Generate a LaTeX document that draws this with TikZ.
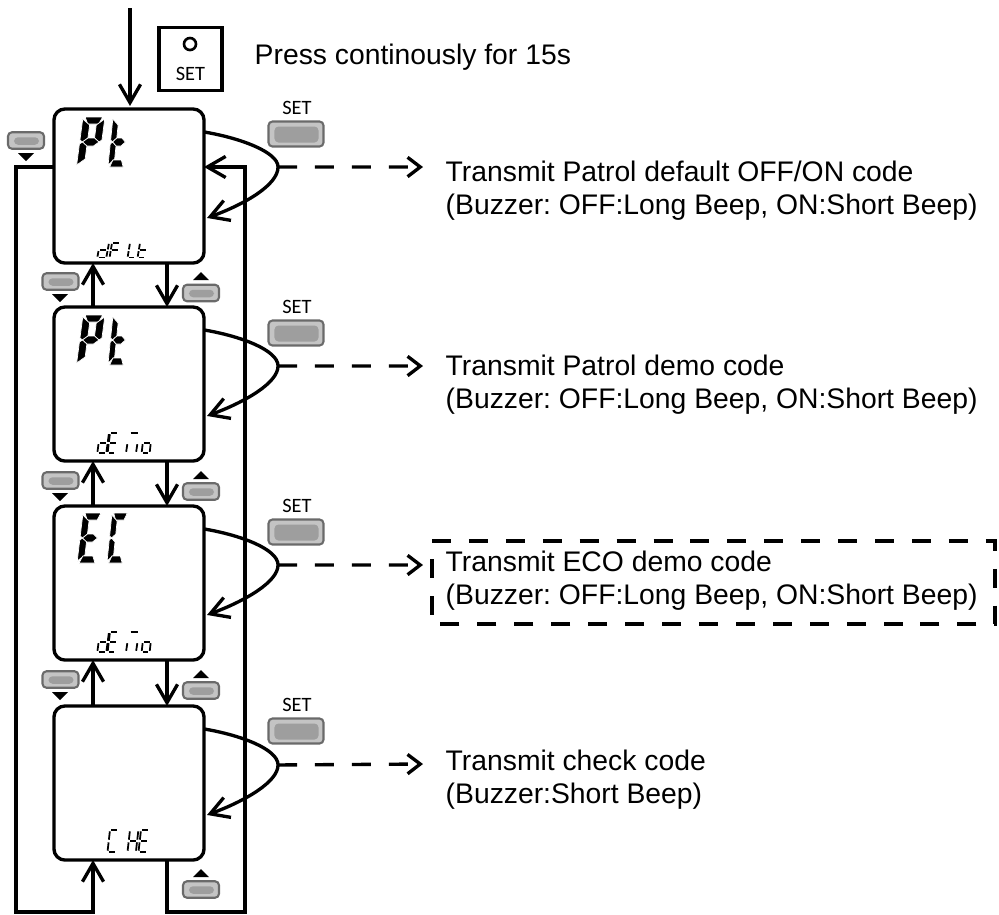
\documentclass[tikz,border=0pt]{standalone}
\usepackage{fontspec}
\setmainfont{Liberation Sans}
\newfontfamily\keyfont{Carlito}
\usetikzlibrary{positioning,arrows.meta,calc}
\frenchspacing

\definecolor{btnedge}{HTML}{6A6A6A}
\definecolor{btnface}{HTML}{C4C4C4}
\definecolor{btncore}{HTML}{9E9E9E}

% segments of a display digit, filled
\def\sega{(2,0)--(18,0)--(15,7)--(5,7)--cycle}
\def\segb{(20,2)--(20,23)--(17.5,25)--(13,21)--(13,8)--cycle}
\def\segc{(20,27)--(20,48)--(13,42)--(13,29)--(17.5,25)--cycle}
\def\segd{(5,43)--(15,43)--(18,50)--(2,50)--cycle}
\def\sege{(0,27)--(2.5,25)--(7,29)--(7,42)--(0,48)--cycle}
\def\segf{(0,2)--(7,8)--(7,21)--(2.5,25)--(0,23)--cycle}
\def\segg{(2.5,25)--(7,21)--(13,21)--(17.5,25)--(13,29)--(7,29)--cycle}
% the same segments as thin strokes
\def\thina{(3,0)--(17,0)}
\def\thinb{(20,3)--(20,22)}
\def\thinc{(20,28)--(20,47)}
\def\thind{(3,50)--(17,50)}
\def\thine{(0,28)--(0,47)}
\def\thinf{(0,3)--(0,22)}
\def\thing{(3,25)--(17,25)}

\newcommand{\lcdbig}[4]{%
  \begin{scope}[shift={(#1,#2)},xscale=#3,xslant=.12]
    \foreach \sg in {#4}{\filldraw[draw=white,line width=.2pt] \csname seg\sg\endcsname;}
  \end{scope}}
\newcommand{\lcdsmall}[5]{%
  \begin{scope}[shift={(#1,#2)},xscale=#3,yscale=#4,xslant=.12]
    \foreach \sg in {#5}{\draw[line width=.5pt] \csname thin\sg\endcsname;}
  \end{scope}}
\newcommand{\tridown}[2]{\fill (#1-8,#2) -- (#1+8,#2) -- (#1,#2+8) -- cycle;}
\newcommand{\triup}[2]{\fill (#1-8,#2+8) -- (#1+8,#2+8) -- (#1,#2) -- cycle;}

\tikzset{
  lcdbox/.style={draw,line width=.95pt,rounded corners=.11cm,minimum width=1.5cm,minimum height=1.54cm,inner sep=0pt,outer sep=0pt},
  ln/.style={line width=.95pt},
  arr/.style={ln,-{Straight Barb[length=5.2pt,width=6pt]}},
  dashln/.style={line width=.95pt,dash pattern=on 5.4pt off 5.1pt},
  dasharr/.style={dashln,-{Straight Barb[length=3.6pt,width=5.5pt]}},
  bigbtn/.style={draw=btnedge,fill=btnface,line width=.6pt,rounded corners=.04cm,minimum width=.55cm,minimum height=.25cm,inner sep=0pt,
    path picture={\fill[btncore] ([xshift=.06cm,yshift=-.05cm]path picture bounding box.north west) rectangle ([xshift=-.05cm,yshift=.04cm]path picture bounding box.south east);}},
  smallbtn/.style={bigbtn,minimum width=.36cm,minimum height=.165cm},
  keylbl/.style={font=\keyfont\fontsize{5.8}{7}\selectfont,inner sep=0pt},
  msg/.style={font=\fontsize{8.05}{9.4}\selectfont,align=left,anchor=west,inner sep=0pt}
}

\begin{document}
\begin{tikzpicture}[x=.01cm,y=-.01cm]
\useasboundingbox (0,0) rectangle (999,914);

% display frames
\node[lcdbox] (dflt) at (129,186) {};
\node[lcdbox] (ptdm) at (129,384) {};
\node[lcdbox] (ecdm) at (129,583) {};
\node[lcdbox] (chck) at (129,783) {};

% entry and the SET key
\coordinate (entry) at (130,8);
\draw[arr] (entry) -- ($(dflt.north)+(1,-3)$);
\node[draw,line width=1pt,minimum size=.63cm,inner sep=0pt] (hold) at (190.5,59) {};
\node[draw,circle,line width=.75pt,minimum size=.12cm,inner sep=0pt] (holdled) at (190,44) {};
\node[keylbl] (holdset) at (190.5,74) {SET};
\node[msg] (press) at (254,57) {Press continously for 15s};

% up and down between the frames
\draw[arr] ($(ptdm.north)+(-36,0)$) -- ($(dflt.south)+(-36,0)$);
\draw[arr] ($(dflt.south)+(38,0)$) -- ($(ptdm.north)+(38,0)$);
\draw[arr] ($(ecdm.north)+(-36,0)$) -- ($(ptdm.south)+(-36,0)$);
\draw[arr] ($(ptdm.south)+(38,0)$) -- ($(ecdm.north)+(38,0)$);
\draw[arr] ($(chck.north)+(-36,0)$) -- ($(ecdm.south)+(-36,0)$);
\draw[arr] ($(ecdm.south)+(38,0)$) -- ($(chck.north)+(38,0)$);

% wrap round
\coordinate (wrapl) at ($(dflt.north west)+(0,58)$);
\coordinate (wrapr) at ($(dflt.north east)+(0,58)$);
\draw[arr] (wrapl) -| (16,912) -| ($(chck.south)+(-36,0)$);
\draw[arr] ($(chck.south)+(38,0)$) |- (245,912) |- (wrapr);

% SET loops
\draw[arr,shift={(dflt.north east)}] (0,23) .. controls (36,29) and (74,43) .. (74,58) coordinate (loopa) .. controls (74,76) and (41,95) .. (3,109);
\draw[arr,shift={(ptdm.north east)}] (0,23) .. controls (36,29) and (74,43) .. (74,59) coordinate (loopb) .. controls (74,76) and (41,95) .. (3,109);
\draw[arr,shift={(ecdm.north east)}] (0,23) .. controls (36,29) and (74,43) .. (74,59) coordinate (loopc) .. controls (74,76) and (41,95) .. (3,109);
\draw[arr,shift={(chck.north east)}] (0,23) .. controls (36,29) and (74,43) .. (74,59) coordinate (loopd) .. controls (74,76) and (41,95) .. (3,109);

% what SET sends
\node[msg] (msga) at (445,191) {Transmit Patrol default OFF/ON code\\(Buzzer: OFF:Long Beep, ON:Short Beep)};
\node[msg] (msgb) at (445,385) {Transmit Patrol demo code\\(Buzzer: OFF:Long Beep, ON:Short Beep)};
\node[msg] (msgc) at (445,581) {Transmit ECO demo code\\(Buzzer: OFF:Long Beep, ON:Short Beep)};
\node[msg] (msgd) at (445,780) {Transmit check code\\(Buzzer:Short Beep)};
\coordinate (tipa) at (423,167);
\coordinate (tipb) at (423,366);
\coordinate (tipc) at (423,565);
\coordinate (tipd) at (423,764);
\draw[dasharr] (loopa) -- (tipa);
\draw[dasharr] (loopb) -- (tipb);
\draw[dasharr] (loopc) -- (tipc);
\draw[dasharr] (loopd) -- (tipd);
\draw[dashln] (432,541) -- (995,541) -- (995,624) -- (432,624) -- cycle;

% SET keys
\node[keylbl] (seta) at (297,108) {SET};
\node[keylbl] (setb) at (297,307) {SET};
\node[keylbl] (setc) at (297,506) {SET};
\node[keylbl] (setd) at (297,705) {SET};
\node[bigbtn] (keya) at (296,134) {};
\node[bigbtn] (keyb) at (296,333) {};
\node[bigbtn] (keyc) at (296,532) {};
\node[bigbtn] (keyd) at (296,731) {};

% down keys
\node[smallbtn] (dna) at (26,140.5) {};
\node[smallbtn] (dnb) at (60.5,281.5) {};
\node[smallbtn] (dnc) at (60.5,480.5) {};
\node[smallbtn] (dnd) at (60.5,679.5) {};
\tridown{26}{153}
\tridown{60}{294}
\tridown{60}{493}
\tridown{60}{692}
% up keys
\node[smallbtn] (upa) at (201,293) {};
\node[smallbtn] (upb) at (201,491.5) {};
\node[smallbtn] (upc) at (201,690.5) {};
\node[smallbtn] (upd) at (201,889.5) {};
\triup{201}{272}
\triup{201}{471}
\triup{201}{670}
\triup{201}{869}

% display contents
\lcdbig{83}{117}{1.1}{a,b,f,g,e}
\lcdbig{113}{117}{.85}{f,g,e,d}
\lcdsmall{100}{243}{.45}{.29}{b,c,d,e,g}
\lcdsmall{112}{243}{.4}{.29}{a,f,g,e}
\lcdsmall{130}{243}{.4}{.29}{f,e,d}
\lcdsmall{140}{243}{.4}{.29}{f,g,e,d}

\lcdbig{83}{315}{1.1}{a,b,f,g,e}
\lcdbig{113}{315}{.85}{f,g,e,d}
\lcdsmall{100}{433}{.45}{.4}{b,c,d,e,g}
\lcdsmall{110}{433}{.4}{.4}{a,f,g,e,d}
\lcdsmall{129}{433}{.5}{.4}{a,e,c}
\lcdsmall{144}{433}{.4}{.4}{c,d,e,g}

\lcdbig{83}{513}{1}{a,f,g,e,d}
\lcdbig{112}{513}{.85}{a,f,e,d}
\lcdsmall{100}{632}{.45}{.4}{b,c,d,e,g}
\lcdsmall{110}{632}{.4}{.4}{a,f,g,e,d}
\lcdsmall{129}{632}{.5}{.4}{a,e,c}
\lcdsmall{144}{632}{.4}{.4}{c,d,e,g}

\lcdsmall{110}{830}{.42}{.44}{a,f,e,d}
\lcdsmall{130}{830}{.42}{.44}{b,c,e,f,g}
\lcdsmall{141}{830}{.42}{.44}{a,f,g,e,d}

\end{tikzpicture}
\end{document}
